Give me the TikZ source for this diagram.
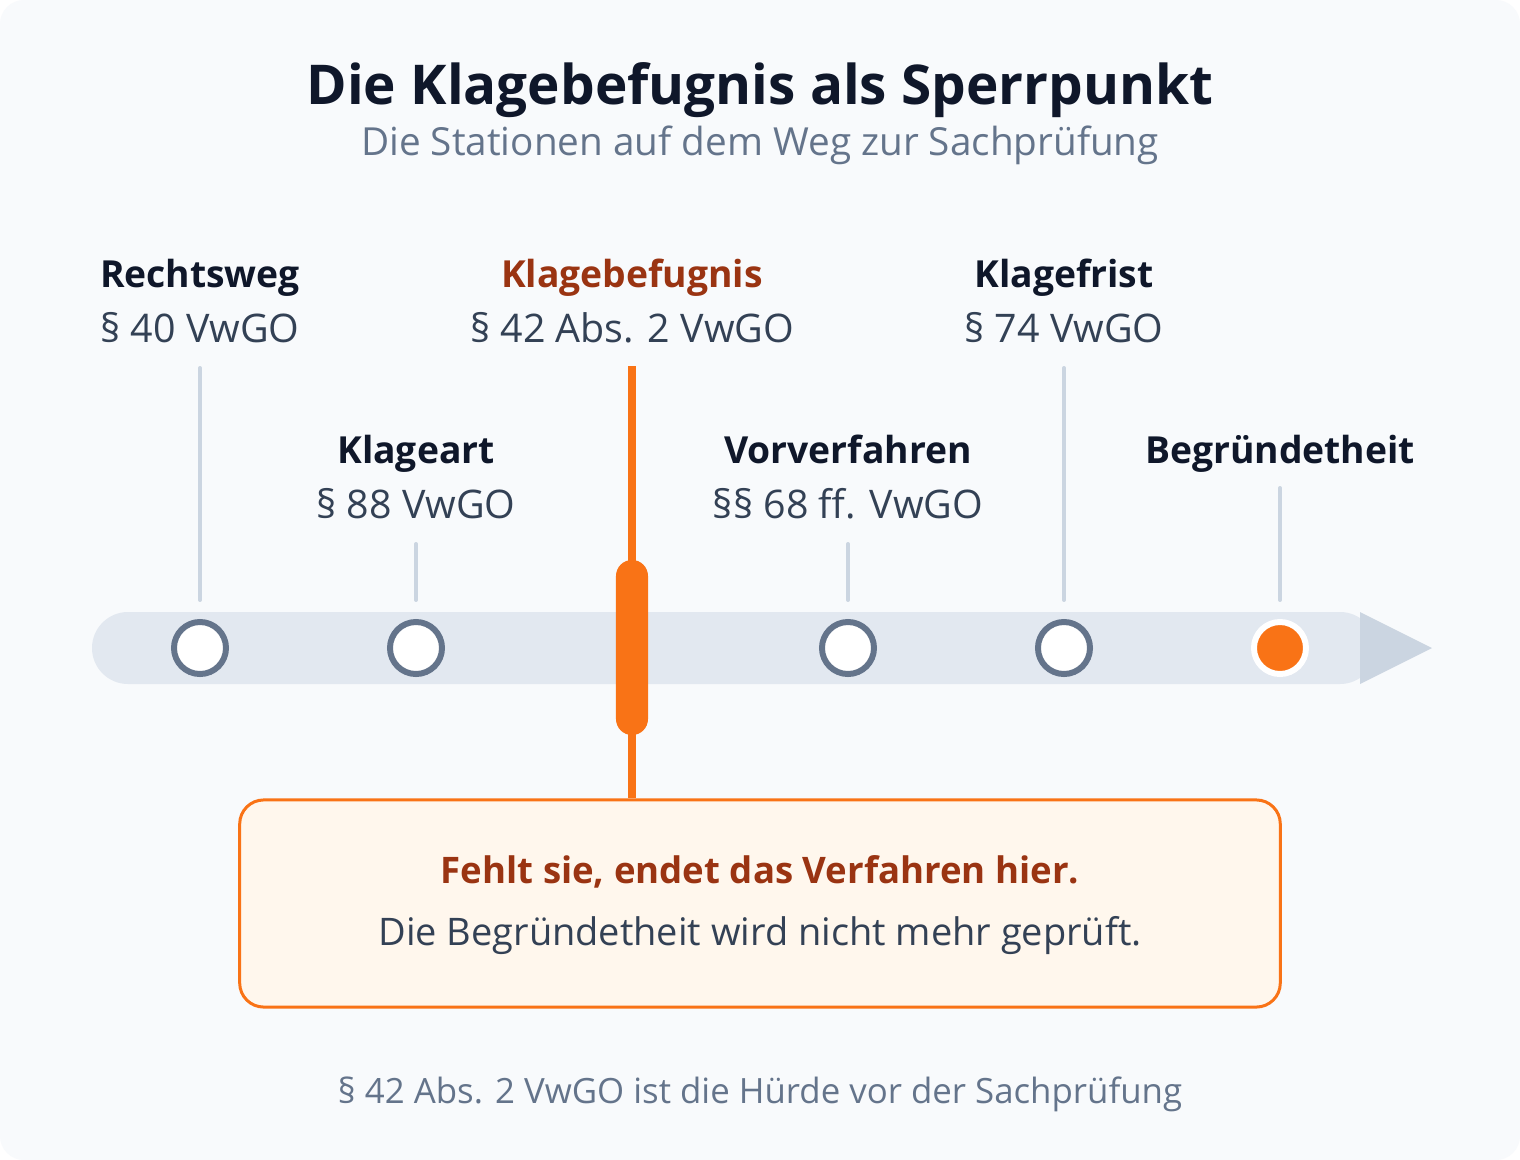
\documentclass[tikz,border=0pt]{standalone}
\usepackage{fontspec}
\setmainfont{Open Sans}
\usepackage{tikz}
\definecolor{bgc}{HTML}{F8FAFC}
\definecolor{ink}{HTML}{0F172A}
\definecolor{slate}{HTML}{334155}
\definecolor{muted}{HTML}{64748B}
\definecolor{track}{HTML}{E2E8F0}
\definecolor{tick}{HTML}{CBD5E1}
\definecolor{accent}{HTML}{F97316}
\definecolor{rust}{HTML}{9A3412}
\definecolor{cream}{HTML}{FFF7ED}

\begin{document}
\begin{tikzpicture}[x=0.01cm,y=-0.01cm,
        station/.style={circle,draw=muted,fill=white,line width=1.7pt,minimum size=0.52cm,inner sep=0pt},
        tickline/.style={tick,line width=1.14pt,line cap=round,shorten >=0.19cm},
        lblname/.style={anchor=base,inner sep=0pt,text=ink,font=\fontsize{10.6pt}{12pt}\selectfont\bfseries},
        lblcode/.style={anchor=base,inner sep=0pt,text=slate,font=\fontsize{11.2pt}{13pt}\selectfont}]
        \fill[white] (0,0) rectangle (1520,1160);
        \fill[bgc,rounded corners=0.24cm] (0,0) rectangle (1520,1160);
        \node[anchor=base,inner sep=0pt,text=ink,font=\fontsize{15.6pt}{18pt}\selectfont\bfseries] (title) at (760,104) {Die Klagebefugnis als Sperrpunkt};
        \node[anchor=base,inner sep=0pt,text=muted,font=\fontsize{11pt}{13pt}\selectfont] (sub) at (760,155) {Die Stationen auf dem Weg zur Sachprüfung};
        \fill[track,rounded corners=0.36cm] (92,612) rectangle (1376,684);
        \fill[tick] (1360,612) -- (1432,648) -- (1360,684) -- cycle;
        \node[station] (c1) at (200,648) {};
        \node[station] (c2) at (416,648) {};
        \node[station] (c4) at (848,648) {};
        \node[station] (c5) at (1064,648) {};
        \node[station,draw=white,fill=accent] (c6) at (1280,648) {};
        \node[lblname] (rwname) at (200,287) {Rechtsweg};
        \node[lblcode] (rwcode) at (200,342) {§ 40 VwGO};
        \node[lblname] (kaname) at (416,463) {Klageart};
        \node[lblcode] (kacode) at (416,518) {§ 88 VwGO};
        \node[lblname,text=rust] (kbname) at (632,287) {Klagebefugnis};
        \node[lblcode] (kbcode) at (632,342) {§ 42 Abs. 2 VwGO};
        \node[lblname] (vvname) at (848,463) {Vorverfahren};
        \node[lblcode] (vvcode) at (848,518) {§§ 68 ff. VwGO};
        \node[lblname] (kfname) at (1064,287) {Klagefrist};
        \node[lblcode] (kfcode) at (1064,342) {§ 74 VwGO};
        \node[lblname] (bgname) at (1280,463) {Begründetheit};
        \coordinate (t1) at (200,368);
        \coordinate (t2) at (416,544);
        \coordinate (t3) at (632,366);
        \coordinate (t4) at (848,544);
        \coordinate (t5) at (1064,368);
        \coordinate (t6) at (1280,488);
        \draw[tickline] (t1) -- (c1);
        \draw[tickline] (t2) -- (c2);
        \draw[tickline] (t4) -- (c4);
        \draw[tickline] (t5) -- (c5);
        \draw[tickline] (t6) -- (c6);
        \node[draw=accent,fill=cream,line width=0.85pt,rounded corners=0.24cm,minimum width=10.4cm,minimum height=2.07cm,inner sep=0pt] (box) at (760,903.5) {};
        \draw[accent,line width=2.28pt] (t3) -- (t3 |- box.north);
        \node[fill=accent,rounded corners=0.16cm,minimum width=0.32cm,minimum height=1.75cm,inner sep=0pt] (gate) at (632,647.5) {};
        \node[anchor=base,inner sep=0pt,text=rust,font=\fontsize{10.4pt}{12pt}\selectfont\bfseries] (stop) at (760,883) {Fehlt sie, endet das Verfahren hier.};
        \node[anchor=base,inner sep=0pt,text=slate,font=\fontsize{10.8pt}{13pt}\selectfont] (stopnote) at (760,945) {Die Begründetheit wird nicht mehr geprüft.};
        \node[anchor=base,inner sep=0pt,text=muted,font=\fontsize{9.9pt}{12pt}\selectfont] (foot) at (760,1103) {§ 42 Abs. 2 VwGO ist die Hürde vor der Sachprüfung};
\end{tikzpicture}
\end{document}
